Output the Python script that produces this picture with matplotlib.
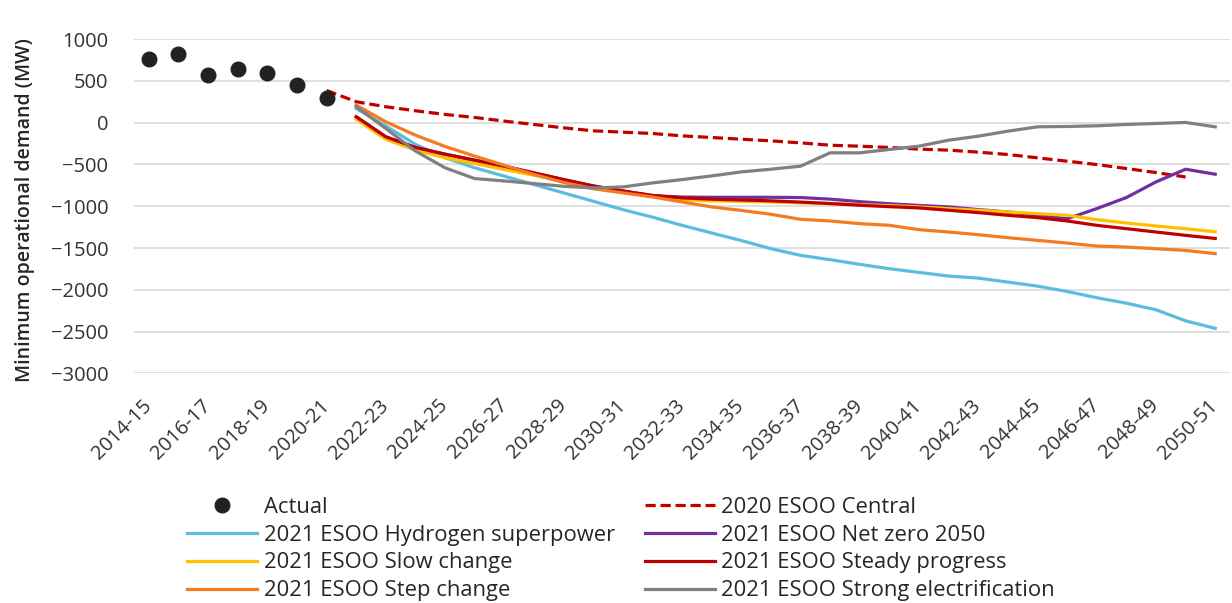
import numpy as np
import matplotlib
matplotlib.use("Agg")
import matplotlib.pyplot as plt

plt.rcParams["font.family"] = ["Open Sans", "DejaVu Sans"]

# Financial years on the category axis
categories = [
    "2014-15", "2015-16", "2016-17", "2017-18", "2018-19", "2019-20", "2020-21",
    "2021-22", "2022-23", "2023-24", "2024-25", "2025-26", "2026-27", "2027-28",
    "2028-29", "2029-30", "2030-31", "2031-32", "2032-33", "2033-34", "2034-35",
    "2035-36", "2036-37", "2037-38", "2038-39", "2039-40", "2040-41", "2041-42",
    "2042-43", "2043-44", "2044-45", "2045-46", "2046-47", "2047-48", "2048-49",
    "2049-50", "2050-51",
]

# Minimum operational demand (MW)
actual = [760, 825, 575, 640, 590, 450, 290]                      # 2014-15 .. 2020-21

esoo2020_central = [385, 250, 190, 142, 98, 62, 18, -22, -62, -98,  # 2020-21 .. 2049-50
                    -114, -130, -158, -178, -198, -218, -242, -270, -282, -297,
                    -317, -329, -353, -381, -421, -461, -501, -549, -597, -650]

# 2021 ESOO scenarios, 2021-22 .. 2050-51
hydrogen_superpower = [170, -40, -260, -420, -540, -640, -740, -840, -940, -1040,
                       -1130, -1228, -1320, -1410, -1507, -1587, -1639, -1695, -1747, -1791,
                       -1835, -1859, -1907, -1955, -2019, -2094, -2159, -2238, -2370, -2460]
net_zero_2050 = [70, -170, -297, -377, -449, -521, -601, -681, -757, -817,
                 -875, -890, -893, -893, -893, -896, -915, -945, -970, -990,
                 -1008, -1040, -1068, -1108, -1150, -1028, -896, -709, -557, -617]
slow_change = [40, -200, -329, -421, -489, -561, -629, -697, -769, -829,
               -881, -920, -935, -941, -948, -960, -968, -980, -992, -1008,
               -1028, -1048, -1068, -1088, -1108, -1160, -1200, -1236, -1268, -1305]
steady_progress = [70, -170, -297, -377, -449, -521, -601, -681, -757, -817,
                   -870, -900, -915, -925, -935, -950, -968, -988, -1005, -1020,
                   -1048, -1076, -1108, -1136, -1176, -1228, -1268, -1308, -1348, -1385]
step_change = [210, 10, -150, -285, -400, -510, -620, -715, -790, -840,
               -889, -948, -1008, -1050, -1096, -1156, -1176, -1208, -1228, -1280,
               -1308, -1340, -1376, -1408, -1440, -1476, -1488, -1508, -1528, -1567]
strong_electrification = [190, -70, -340, -540, -669, -697, -729, -761, -781, -769,
                          -721, -681, -637, -589, -557, -521, -361, -361, -321, -281,
                          -210, -162, -102, -50, -46, -38, -22, -10, 2, -50]

x = np.arange(len(categories))
x_actual = x[:len(actual)]
x_2020 = x[6:6 + len(esoo2020_central)]
x_2021 = x[7:7 + len(hydrogen_superpower)]

fig = plt.figure(figsize=(12.32, 6.03), dpi=100)
ax = fig.add_axes([0.1088, 0.3806, 0.8896, 0.5547])

lw = 2.3
(h_central,) = ax.plot(x_2020, esoo2020_central, color="#C00000", lw=lw,
                       dashes=(3.2, 1.5), dash_capstyle="butt", zorder=3)
(h_h2,) = ax.plot(x_2021, hydrogen_superpower, color="#5BBCDD", lw=lw, zorder=3)
(h_nz,) = ax.plot(x_2021, net_zero_2050, color="#7030A0", lw=lw, zorder=3)
(h_slow,) = ax.plot(x_2021, slow_change, color="#FFC000", lw=lw, zorder=3)
(h_steady,) = ax.plot(x_2021, steady_progress, color="#C00000", lw=lw, zorder=3)
(h_step,) = ax.plot(x_2021, step_change, color="#F47B20", lw=lw, zorder=3)
(h_strong,) = ax.plot(x_2021, strong_electrification, color="#808080", lw=lw, zorder=3)
(h_actual,) = ax.plot(x_actual, actual, linestyle="none", marker="o", markersize=10.5,
                      color="#222222", zorder=4)

ax.set_xlim(-0.5, len(categories) - 0.5)
ax.set_ylim(-3000, 1000)
ax.set_yticks(np.arange(-3000, 1001, 500))
ax.set_xticks(x[::2])
ax.set_xticklabels(categories[::2], rotation=45, ha="right", va="center",
                   rotation_mode="anchor")
ax.tick_params(axis="x", length=0, pad=21, labelsize=14.5, labelcolor="#333333")
ax.tick_params(axis="y", length=0, pad=18.5, labelsize=14.5, labelcolor="#333333")

ax.grid(axis="y", color="#D9D9D9", lw=1.2)
ax.set_axisbelow(True)
for s in ax.spines.values():
    s.set_visible(False)

ax.set_ylabel("Minimum operational demand (MW)", fontsize=14, fontweight="semibold",
              color="#262626")
ax.yaxis.set_label_coords(-0.090, 0.49)

handles = [h_actual, h_h2, h_slow, h_step, h_central, h_nz, h_steady, h_strong]
labels = ["Actual", "2021 ESOO Hydrogen superpower", "2021 ESOO Slow change",
          "2021 ESOO Step change", "2020 ESOO Central", "2021 ESOO Net zero 2050",
          "2021 ESOO Steady progress", "2021 ESOO Strong electrification"]
leg = fig.legend(handles, labels, ncol=2, loc="upper left",
                 bbox_to_anchor=(0.152, 0.176), bbox_transform=fig.transFigure,
                 frameon=False, fontsize=15.8, handlelength=3.2, handletextpad=0.28,
                 columnspacing=1.38, labelspacing=0.31, numpoints=1,
                 borderaxespad=0, borderpad=0, labelcolor="#262626")

fig.savefig("out.png", dpi=100)
